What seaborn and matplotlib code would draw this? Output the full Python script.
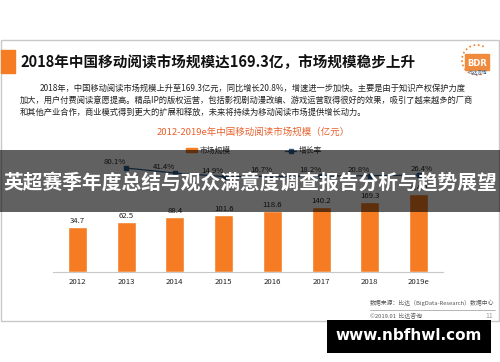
import numpy as np
import pandas as pd
import seaborn as sns
import matplotlib.pyplot as plt
from matplotlib.patches import Rectangle, Patch, Arc
from matplotlib.lines import Line2D

# 数据
years = ["2012", "2013", "2014", "2015", "2016", "2017", "2018", "2019e"]
market = [34.7, 62.5, 88.4, 101.6, 118.6, 140.2, 169.3, 214.0]
growth_years = ["2013", "2014", "2015", "2016", "2017", "2018", "2019e"]
growth = [80.1, 41.4, 14.9, 16.7, 18.2, 20.8, 26.4]

title = "2018年中国移动阅读市场规模达169.3亿，市场规模稳步上升"
para = [
    "2018年，中国移动阅读市场规模上升至169.3亿元，同比增长20.8%，增速进一步加快。主要是由于知识产权保护力度",
    "加大，用户付费阅读意愿提高。精品IP的版权运营，包括影视剧动漫改编、游戏运营取得很好的效果，吸引了越来越多的厂商",
    "和其他产业合作，商业模式得到更大的扩展和释放，未来将持续为移动阅读市场提供增长动力。",
]
chart_title = "2012-2019e年中国移动阅读市场规模（亿元）"
overlay_text = "英超赛季年度总结与观众满意度调查报告分析与趋势展望"

sns.set_style("white")
plt.rcParams['font.family'] = ['Noto Sans CJK SC', 'DejaVu Sans']

W, H = 500, 362
fig = plt.figure(figsize=(5, 3.62), dpi=100)
fx = lambda px: px / W
fy = lambda py: 1 - py / H

orange = "#f57c22"
blue = "#2e5f8e"

# 幻灯片边框 + 标题
fig.add_artist(Rectangle((fx(1), fy(321)), fx(498), 281 / H, transform=fig.transFigure,
                         fill=False, edgecolor="#c8c8c8", lw=1, zorder=0))
fig.add_artist(Rectangle((fx(1), fy(73)), fx(14), 23 / H, transform=fig.transFigure,
                         color=orange, zorder=1))
fig.text(fx(20), fy(62), title, fontsize=10.5, fontweight="bold", va="center", color="#111111")
for i, line in enumerate(para):
    fig.text(fx(40 if i == 0 else 20), fy(88 + 12 * i), line, fontsize=5.95, va="center", color="#222222")
fig.text(fx(253), fy(132), chart_title, fontsize=6.8, ha="center", va="center", color="#e8602c")

# logo（近似）
fig.add_artist(Arc((fx(477), fy(60)), fx(30), 30 / H, theta1=70, theta2=290, transform=fig.transFigure,
                   color=orange, lw=1.2, ls=":", zorder=2))
fig.add_artist(Rectangle((fx(465), fy(70)), fx(24), 16 / H, transform=fig.transFigure,
                         color="#f08a3c", zorder=2))
fig.text(fx(477), fy(63), "BDR", fontsize=6, fontweight="bold", color="white", ha="center", va="center",
         family="DejaVu Sans")
fig.text(fx(478), fy(73), "比达咨询", fontsize=3.3, color=blue, ha="center", va="center")

# 柱状图（坐标轴不从0开始，柱高加偏移）
offset = 207
df = pd.DataFrame({"year": years, "market": market})
df["shown"] = df["market"] + offset
ax = fig.add_axes([fx(53), fy(272), fx(390), 112 / H])
sns.barplot(data=df, x="year", y="shown", color=orange, width=0.39, saturation=1, ax=ax)
ax.set_ylim(0, 602)
ax.set_xlim(-0.5, 7.5)
ax.set_xlabel("")
ax.set_ylabel("")
ax.set_yticks([])
for s in ["top", "left", "right"]:
    ax.spines[s].set_visible(False)
ax.spines["bottom"].set_color("#c8c8c8")
ax.tick_params(axis="x", length=0, labelsize=5.6, pad=4, colors="#222222")
ax.set_xticks(np.arange(-0.5, 8, 1), minor=True)
ax.tick_params(axis="x", which="minor", length=3, color="#c8c8c8", direction="out")
ax.patch.set_alpha(0)
for i, (v, s) in enumerate(zip(df["market"], df["shown"])):
    ax.annotate(f"{v:.1f}", (i, s), xytext=(0, 2), textcoords="offset pixels",
                ha="center", va="bottom", fontsize=5.6, color="#222222")

# 增长率折线
ax2 = ax.twinx()
gx = [years.index(y) for y in growth_years]
ax2.plot(gx, growth, color=blue, marker="s", ms=2.2, lw=0.9)
ax2.set_ylim(-720, 142)
ax2.set_yticks([])
for s in ax2.spines.values():
    s.set_visible(False)
for k, (x, g) in enumerate(zip(gx, growth)):
    dx = 3 if k == len(growth) - 1 else -11
    ax2.annotate(f"{g}%", (x, g), xytext=(dx, 2), textcoords="offset pixels",
                 ha="center", va="bottom", fontsize=5.6, color="#222222")

# 图例
handles = [Patch(color=orange, label="市场规模"),
           Line2D([], [], color=blue, marker="s", ms=2.2, lw=0.9, label="增长率")]
fig.legend(handles=handles, loc="center", bbox_to_anchor=(fx(254), fy(151)), ncol=2, frameon=False,
           fontsize=5.6, handlelength=1.4, handleheight=0.4, columnspacing=7, handletextpad=0.3)

# 页脚
fig.text(fx(370), fy(303), "数据来源：比达（BigData-Research）数据中心", fontsize=4.2, va="center", color="#555555")
fig.add_artist(Line2D([fx(370), fx(495)], [fy(310), fy(310)], transform=fig.transFigure, color="#999999", lw=0.5))
fig.text(fx(370), fy(316), "©2019.01  比达咨询", fontsize=4.2, va="center", color="#555555")
fig.text(fx(493), fy(316), "11", fontsize=5, va="center", ha="right", color="#999999")

# 半透明遮罩 + 文字
fig.add_artist(Rectangle((0, fy(212)), 1, 62 / H, transform=fig.transFigure,
                         color="black", alpha=0.62, lw=0, zorder=10))
fig.text(0.5, fy(183), overlay_text, fontsize=14.2, fontweight="bold", color="white",
         ha="center", va="center", zorder=11)

# 水印
fig.add_artist(Rectangle((fx(327), fy(353)), fx(164), 33 / H, transform=fig.transFigure,
                         color="black", lw=0, zorder=10))
fig.text(fx(409), fy(336), "www.nbfhwl.com", fontsize=11, fontweight="bold", color="white",
         ha="center", va="center", zorder=11, family="DejaVu Sans")

fig.savefig("out.png", dpi=100)
